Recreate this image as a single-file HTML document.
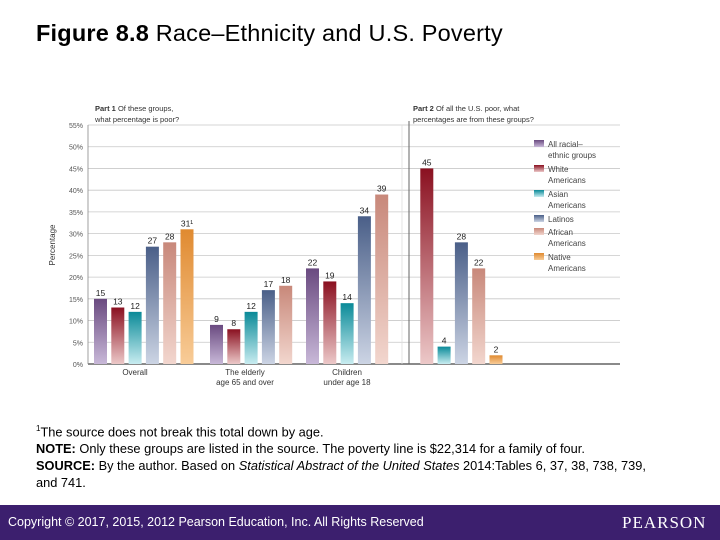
<!DOCTYPE html>
<html><head><meta charset="utf-8"><style>
body{margin:0;width:720px;height:540px;background:#fff;position:relative;overflow:hidden;font-family:"Liberation Sans",sans-serif}
.t{position:absolute}
</style></head><body>
<div class="t" style="left:36px;top:20px;font-size:23.5px;color:#000;white-space:nowrap;letter-spacing:0.2px"><b>Figure 8.8</b> Race–Ethnicity and U.S. Poverty</div>
<svg id="c" width="720" height="400" style="position:absolute;left:0;top:0">
<defs>
<linearGradient id="g0" x1="0" y1="0" x2="0" y2="1"><stop offset="0" stop-color="#6a4a80"/><stop offset="1" stop-color="#c8b8d8"/></linearGradient>
<linearGradient id="g1" x1="0" y1="0" x2="0" y2="1"><stop offset="0" stop-color="#8a1020"/><stop offset="1" stop-color="#ecc8c8"/></linearGradient>
<linearGradient id="g2" x1="0" y1="0" x2="0" y2="1"><stop offset="0" stop-color="#0a8a98"/><stop offset="1" stop-color="#c8ecf0"/></linearGradient>
<linearGradient id="g3" x1="0" y1="0" x2="0" y2="1"><stop offset="0" stop-color="#4a5f88"/><stop offset="1" stop-color="#ccd4e4"/></linearGradient>
<linearGradient id="g4" x1="0" y1="0" x2="0" y2="1"><stop offset="0" stop-color="#c8887a"/><stop offset="1" stop-color="#f2d6ce"/></linearGradient>
<linearGradient id="g5" x1="0" y1="0" x2="0" y2="1"><stop offset="0" stop-color="#e08a30"/><stop offset="1" stop-color="#f8cc98"/></linearGradient>
</defs>
</svg>
<div class="t" style="left:36px;top:420px;font-size:12.8px;line-height:17px;color:#000;width:625px">
<div><sup style="font-size:8px">1</sup>The source does not break this total down by age.</div>
<div><b>NOTE:</b> Only these groups are listed in the source. The poverty line is $22,314 for a family of four.</div>
<div><b>SOURCE:</b> By the author. Based on <i>Statistical Abstract of the United States</i> 2014:Tables 6, 37, 38, 738, 739, and 741.</div>
</div>
<div class="t" style="left:0;top:505px;width:720px;height:35px;background:#3c1f6e"></div>
<div class="t" style="left:8px;top:515px;font-size:12.5px;color:#fff">Copyright © 2017, 2015, 2012 Pearson Education, Inc. All Rights Reserved</div>
<div class="t" style="left:622px;top:513px;font-size:17px;color:#fff;font-family:'Liberation Serif',serif;letter-spacing:1px">PEARSON</div>
<script>
const groups=["Overall","The elderly|age 65 and over","Children|under age 18"];
const overall=[15,13,12,27,28,31];
const elderly=[9,8,12,17,18];
const children=[22,19,14,34,39];
const part2=[null,45,4,28,22,2];
const yTicks=[0,5,10,15,20,25,30,35,40,45,50,55];
const legendLabels=[["All racial–","ethnic groups"],["White","Americans"],["Asian","Americans"],["Latinos"],["African","Americans"],["Native","Americans"]];
const svg=document.getElementById('c');const NS="http://www.w3.org/2000/svg";
function el(t,a,p){const e=document.createElementNS(NS,t);for(const k in a)e.setAttribute(k,a[k]);(p||svg).appendChild(e);return e;}
const y=v=>364-v*(239/55);
const ls="font-family:'Liberation Sans',sans-serif";
yTicks.forEach(v=>{
 const l=el('line',{x1:88,x2:620,y1:y(v),y2:y(v),stroke:v===0?'#444':'#c8c8c8','stroke-width':v===0?1.2:0.8});
 
 const t=el('text',{x:83,y:y(v)+3,'text-anchor':'end','font-size':7,fill:'#555',style:ls});t.textContent=v+'%';
 
});
el('line',{x1:88,x2:88,y1:y(55),y2:364,stroke:'#888','stroke-width':0.8});
el('line',{x1:409,x2:409,y1:y(55)-4,y2:364,stroke:'#666','stroke-width':1});
el('line',{x1:402,x2:402,y1:y(55),y2:364,stroke:'#ddd','stroke-width':0.8});
const yt=el('text',{x:0,y:0,'font-size':8,fill:'#333',style:ls,transform:'translate(55,245) rotate(-90)','text-anchor':'middle'});yt.textContent='Percentage';

[["Part 1","  Of these groups,",95,111],["","what percentage is poor?",95,122],["Part 2","  Of all the U.S. poor, what",413,111],["","percentages are from these groups?",413,122]].forEach(r=>{
 const t=el('text',{x:r[2],y:r[3],'font-size':7.5,fill:'#333',style:ls});
 if(r[0]){const b=el('tspan',{'font-weight':'bold'},t);b.textContent=r[0];}
 const s=el('tspan',{},t);s.textContent=r[1];
 
});
function bars(vals,x0,gname){vals.forEach((v,i)=>{if(v==null)return;const x=x0+i*17.3;
 const r=el('rect',{x:x,y:y(v),width:13,height:364-y(v),fill:'url(#g'+i+')'});
 
 const t=el('text',{x:x+6.5,y:y(v)-3,'text-anchor':'middle','font-size':8.5,fill:'#222',style:ls});t.textContent=v+(gname==='overall'&&i===5?'¹':'');
 });}
bars(overall,94,'overall');bars(elderly,210,'elderly');bars(children,306,'children');bars(part2,403,'part2');
[[135,0],[245,1],[347,2]].forEach(([cx,i])=>{groups[i].split('|').forEach((s,k)=>{
 const t=el('text',{x:cx,y:375+k*10,'text-anchor':'middle','font-size':8,fill:'#333',style:ls});t.textContent=s;
 });});
let ly=140;
legendLabels.forEach((lab,i)=>{
 const r=el('rect',{x:534,y:ly,width:10,height:7,fill:'url(#g'+i+')'});
 
 lab.forEach((s,k)=>{const t=el('text',{x:548,y:ly+7+k*11,'font-size':8,fill:'#444',style:ls});t.textContent=s;
  });
 ly+=lab.length===2?25:13;
});
</script>
</body></html>
